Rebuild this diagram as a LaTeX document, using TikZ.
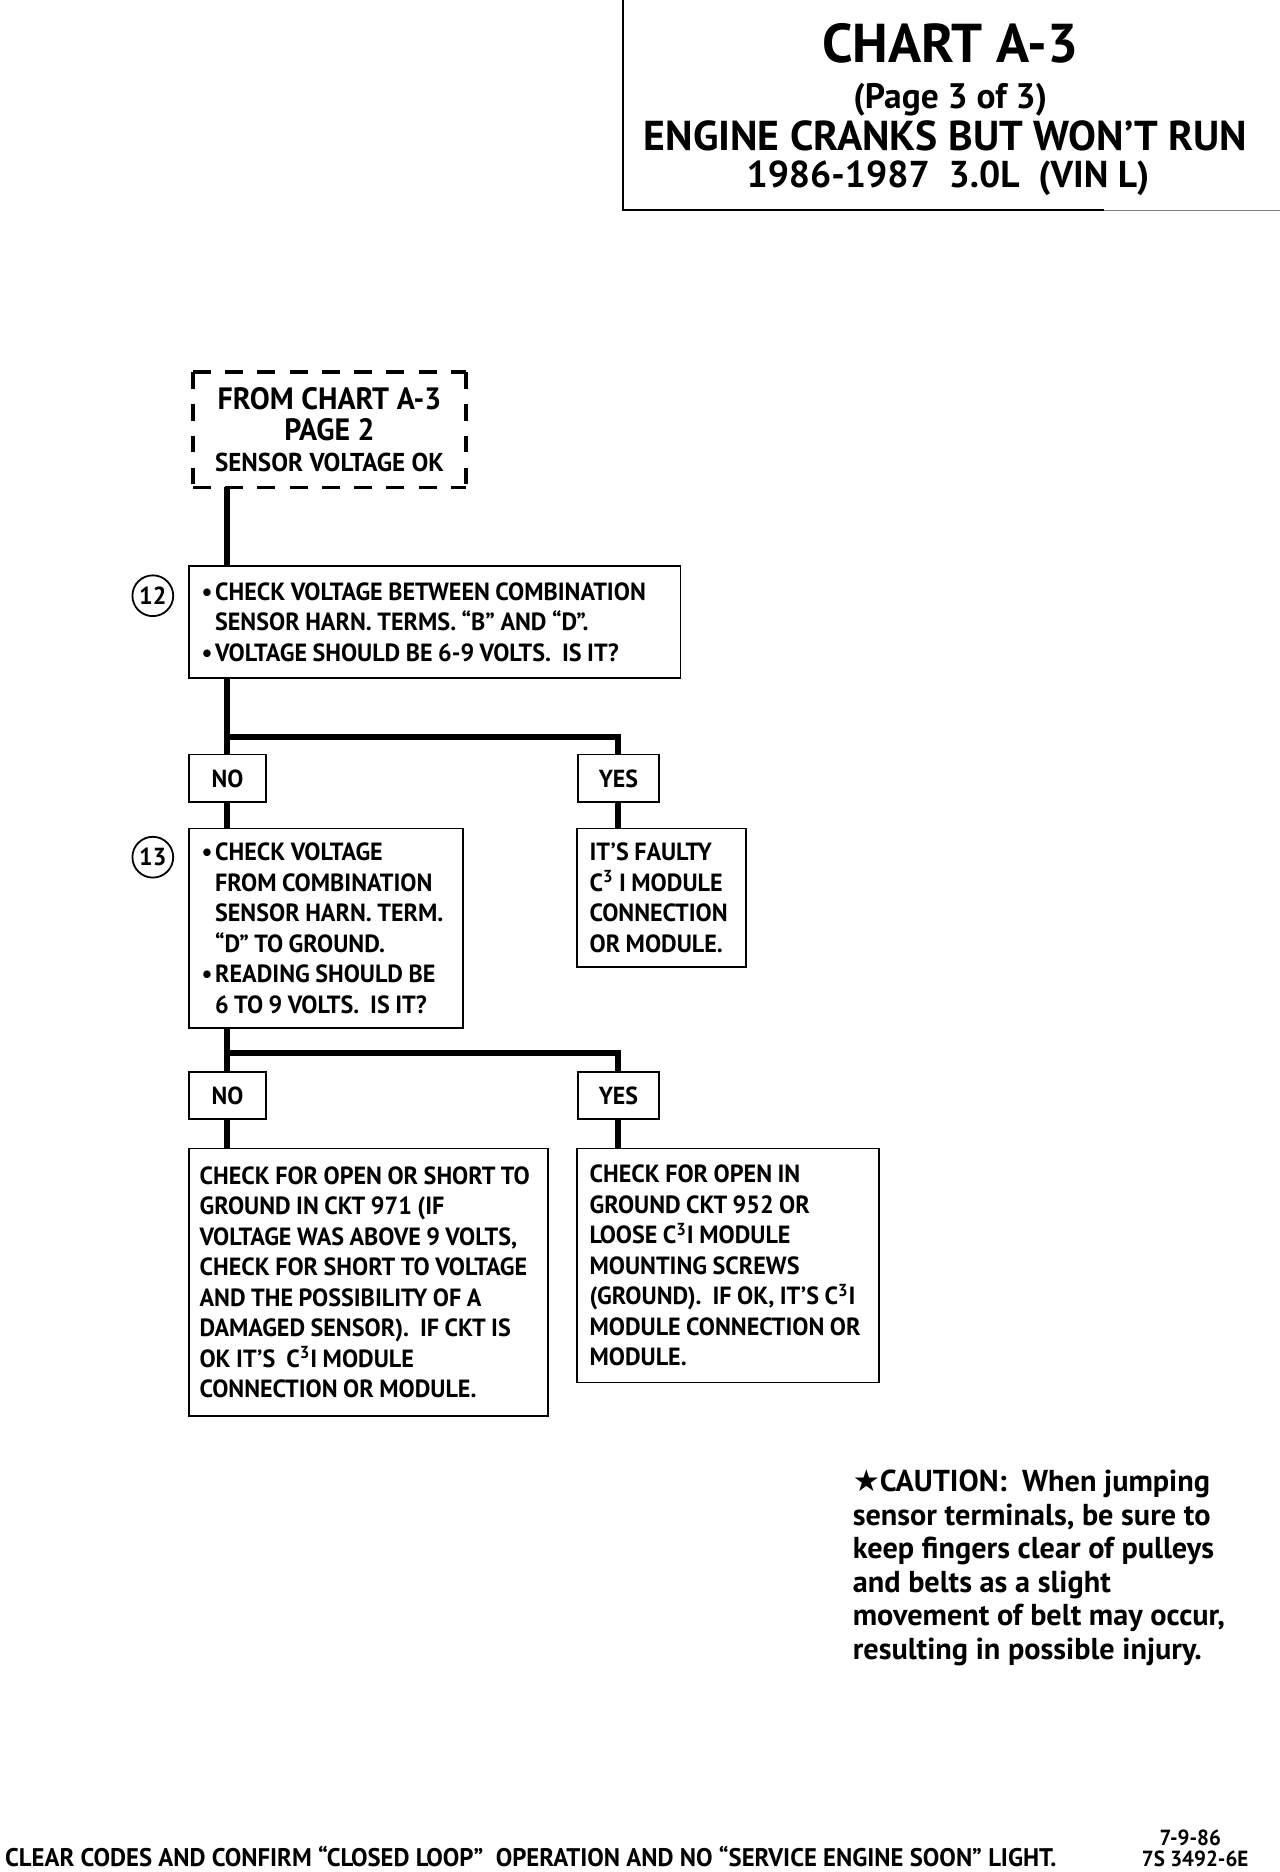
\documentclass[tikz,border=0pt]{standalone}
\usepackage{fontspec}
\setmainfont{PT Sans}
\newfontfamily\bxf[FakeStretch=0.97]{PT Sans}
\newfontfamily\ftf[FakeStretch=0.96]{PT Sans}
\newfontfamily\symf{DejaVu Sans}
\usetikzlibrary{calc}
\newcommand\bl{\makebox[6.8pt][l]{•}}
\newcommand\ind{\hspace*{6.8pt}}
\newcommand\cthree{C\textsuperscript{3}}
\newcommand\tightsp{\spaceskip=0.22em plus 0.05em\relax}
\begin{document}
\begin{tikzpicture}[x=0.6pt,y=-0.6pt,
  box/.style={draw,line width=0.9pt,inner xsep=6.5pt,inner ysep=0pt,align=left,
    font=\bxf\bfseries\fontsize{12.5}{15.3}\selectfont,execute at begin node=\tightsp},
  tag/.style={draw,line width=0.9pt,inner sep=0pt,
    font=\bxf\bfseries\fontsize{12.4}{13}\selectfont},
  num/.style={draw,circle,line width=0.9pt,minimum size=20.5pt,inner sep=0pt,
    font=\bxf\bfseries\fontsize{12.4}{13}\selectfont},
  ttl/.style={inner sep=0pt},
  conn/.style={line width=3pt},
  dsh/.style={line width=2pt}]
\useasboundingbox (0,0) rectangle (1072,1568);

% title block
\draw[line width=1pt] (522,0) -- (522,176) -- (925,176);
\draw[line width=0.6pt,gray] (925,176) -- (1072,176);
\node[ttl,font=\bfseries\fontsize{27.5}{30}\selectfont] (t1) at (796,36) {CHART A-3};
\node[ttl,font=\bfseries\fontsize{17.8}{20}\selectfont] (t2) at (796,84) {(Page 3 of 3)};
\node[ttl,font=\bfseries\fontsize{21}{24}\selectfont] (t3) at (792,114) {ENGINE CRANKS BUT WON’T RUN};
\node[ttl,font=\bfseries\fontsize{18.8}{22}\selectfont] (t4) at (794,149.5) {1986-1987\ \ 3.0L\ \ (VIN L)};

% dashed start box
\node[minimum width=136.8pt,minimum height=57.6pt,inner sep=0pt,align=center,
  font=\bxf\bfseries\fontsize{15.5}{15.6}\selectfont] (from) at (276,360)
  {FROM CHART A-3\\PAGE 2\\{\fontsize{13}{13}\selectfont SENSOR VOLTAGE OK}};
\draw[dsh,dash pattern=on 9pt off 7.2pt] (from.north west) -- (from.north east);
\draw[dsh,dash pattern=on 9pt off 7.2pt] (from.south west) -- (from.south east);
\draw[dsh,dash pattern=on 8.4pt off 7.6pt] (from.north west) -- (from.south west);
\draw[dsh,dash pattern=on 8.4pt off 7.6pt] (from.north east) -- (from.south east);

% step 12
\node[box,text width=234.2pt,minimum height=56.4pt] (b12) at (364,521)
  {\bl CHECK VOLTAGE BETWEEN COMBINATION\\
   \ind SENSOR HARN. TERMS. “B” AND “D”.\\
   \bl VOLTAGE SHOULD BE 6-9 VOLTS.\ \ IS IT?};
\node[num] (c12) at (128,499) {12};

\node[tag,minimum width=39pt,minimum height=24pt] (no1) at (190.5,652) {NO};
\node[tag,minimum width=40.8pt,minimum height=24pt] (yes1) at (518,652) {YES};
\coordinate (j1) at (190,617);

% step 13
\node[box,text width=125pt,minimum height=100.2pt] (b13) at (273,777.5)
  {\bl CHECK VOLTAGE\\
   \ind FROM COMBINATION\\
   \ind SENSOR HARN. TERM.\\
   \ind “D” TO GROUND.\\
   \bl READING SHOULD BE\\
   \ind 6 TO 9 VOLTS.\ \ IS IT?};
\node[num] (c13) at (128,718) {13};

\node[box,text width=72.2pt,minimum height=69.6pt] (r1) at (554,752)
  {IT’S FAULTY\\
   \cthree\ I MODULE\\
   CONNECTION\\
   OR MODULE.};

\node[tag,minimum width=39pt,minimum height=23.4pt] (no2) at (190.5,917.5) {NO};
\node[tag,minimum width=40.8pt,minimum height=23.4pt] (yes2) at (518,917.5) {YES};
\coordinate (j2) at (190,882);

\node[box,inner xsep=5.5pt,text width=169.6pt,minimum height=134.4pt] (b14) at (308.5,1074)
  {CHECK FOR OPEN OR SHORT TO\\
   GROUND IN CKT 971 (IF\\
   VOLTAGE WAS ABOVE 9 VOLTS,\\
   CHECK FOR SHORT TO VOLTAGE\\
   AND THE POSSIBILITY OF A\\
   DAMAGED SENSOR).\ \ IF CKT IS\\
   OK IT’S\ \ \cthree I MODULE\\
   CONNECTION OR MODULE.};

\node[box,text width=138.8pt,minimum height=117.6pt] (r2) at (609.5,1060)
  {CHECK FOR OPEN IN\\
   GROUND CKT 952 OR\\
   LOOSE \cthree I MODULE\\
   MOUNTING SCREWS\\
   (GROUND).\ \ IF OK, IT’S \cthree I\\
   MODULE CONNECTION OR\\
   MODULE.};

% connectors
\draw[conn] (from.south -| j1) -- (b12.north -| j1);
\draw[conn] (b12.south -| j1) -- (no1.north -| j1);
\draw[conn] (j1) -| (yes1.north);
\draw[conn] (no1.south -| j1) -- (b13.north -| j1);
\draw[conn] (yes1.south) -- (r1.north -| yes1);
\draw[conn] (b13.south -| j2) -- (no2.north -| j2);
\draw[conn] (j2) -| (yes2.north);
\draw[conn] (no2.south -| j2) -- (b14.north -| j2);
\draw[conn] (yes2.south) -- (r2.north -| yes2);

% caution
\node[anchor=north west,inner sep=0pt,align=left,
  font=\bfseries\fontsize{15.2}{16.8}\selectfont] (caution) at (714,1231)
  {{\symf ★}CAUTION:\ \ When jumping\\
   sensor terminals, be sure to\\
   keep fingers clear of pulleys\\
   and belts as a slight\\
   movement of belt may occur,\\
   resulting in possible injury.};

% footer
\node[anchor=base west,inner sep=0pt,font=\bxf\bfseries\fontsize{12.8}{13}\selectfont] (foot) at (4,1563)
  {CLEAR CODES AND CONFIRM “CLOSED LOOP”\ \ OPERATION AND NO “SERVICE ENGINE SOON” LIGHT.};
\node[anchor=base,inner sep=0pt,font=\ftf\bfseries\fontsize{11}{13}\selectfont] (date) at (997,1546) {7-9-86};
\node[anchor=base east,inner sep=0pt,font=\ftf\bfseries\fontsize{11}{13}\selectfont] (code) at (1046,1563) {7S 3492-6E};
\end{tikzpicture}
\end{document}
